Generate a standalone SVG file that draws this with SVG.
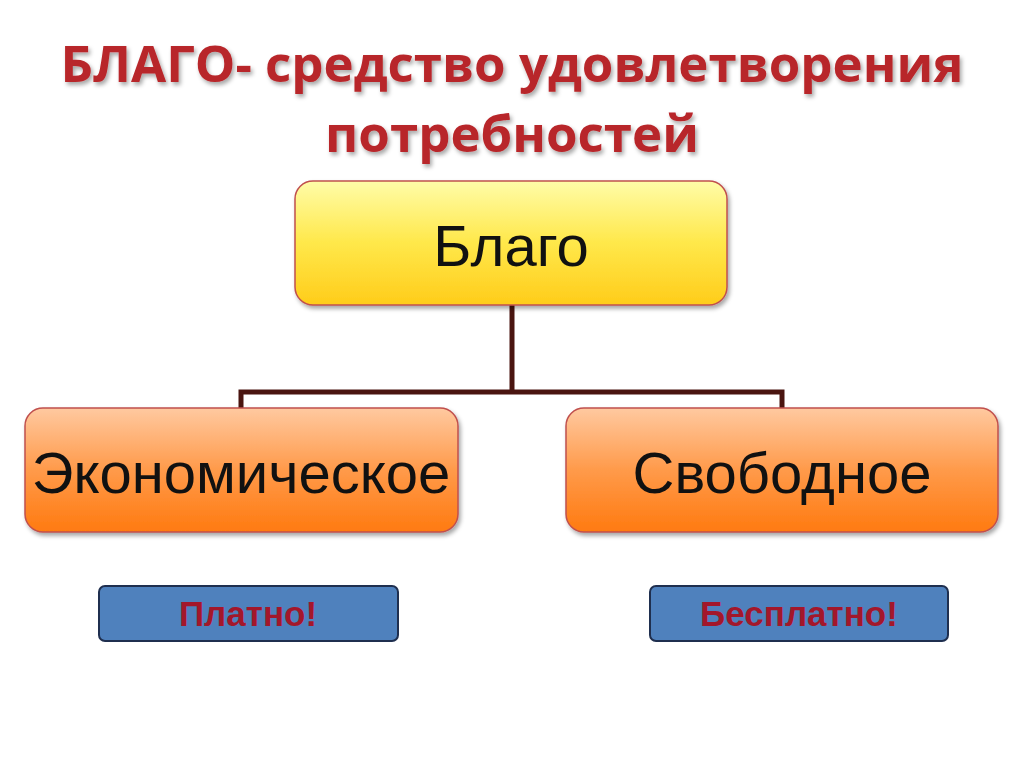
<svg xmlns="http://www.w3.org/2000/svg" width="1024" height="767" viewBox="0 0 1024 767">
<defs>
<linearGradient id="gy" x1="0" y1="0" x2="0" y2="1"><stop offset="0" stop-color="#FFFCA8"/><stop offset="0.5" stop-color="#FFE84A"/><stop offset="1" stop-color="#FFCC1A"/></linearGradient>
<linearGradient id="go" x1="0" y1="0" x2="0" y2="1"><stop offset="0" stop-color="#FFC9A0"/><stop offset="0.5" stop-color="#FF9A4A"/><stop offset="1" stop-color="#FF7A10"/></linearGradient>
<filter id="sh" x="-5%" y="-5%" width="110%" height="120%"><feDropShadow dx="2" dy="3" stdDeviation="2" flood-color="#000" flood-opacity="0.35"/></filter>
</defs>
<style>
.t{font-family:"Open Sans","Liberation Sans",sans-serif;font-weight:bold;font-size:51px;fill:#B8262A;text-anchor:middle;filter:url(#sh)}
.n{font-family:"Liberation Sans",Arial,sans-serif;font-size:58px;fill:#111;text-anchor:middle}
.s{font-family:"Liberation Sans",Arial,sans-serif;font-weight:bold;font-size:35px;fill:#A3172B;text-anchor:middle}
.box{stroke:#C0504D;stroke-width:1.5;filter:url(#sh)}
.bb{fill:#4F81BD;stroke:#1F2F4F;stroke-width:2}
</style>
<rect width="1024" height="767" fill="#fff"/>
<text class="t" x="512" y="82">БЛАГО- средство удовлетворения</text>
<text class="t" x="512" y="152">потребностей</text>
<g id="connectors" fill="none" stroke="#4A1510" stroke-width="5">
<path d="M512 305 V392 M241 408 V392 H782 V408"/>
</g>
<g id="blago"><rect class="box" x="295" y="181" width="432" height="124" rx="18" fill="url(#gy)"/><text class="n" x="511" y="266">Благо</text></g>
<g id="econ"><rect class="box" x="25" y="408" width="433" height="124" rx="18" fill="url(#go)"/><text class="n" x="241" y="493">Экономическое</text></g>
<g id="free"><rect class="box" x="566" y="408" width="432" height="124" rx="18" fill="url(#go)"/><text class="n" x="782" y="493">Свободное</text></g>
<g id="paid"><rect class="bb" x="99" y="586" width="299" height="55" rx="6"/><text class="s" x="248" y="626">Платно!</text></g>
<g id="unpaid"><rect class="bb" x="650" y="586" width="298" height="55" rx="6"/><text class="s" x="799" y="626">Бесплатно!</text></g>
</svg>
